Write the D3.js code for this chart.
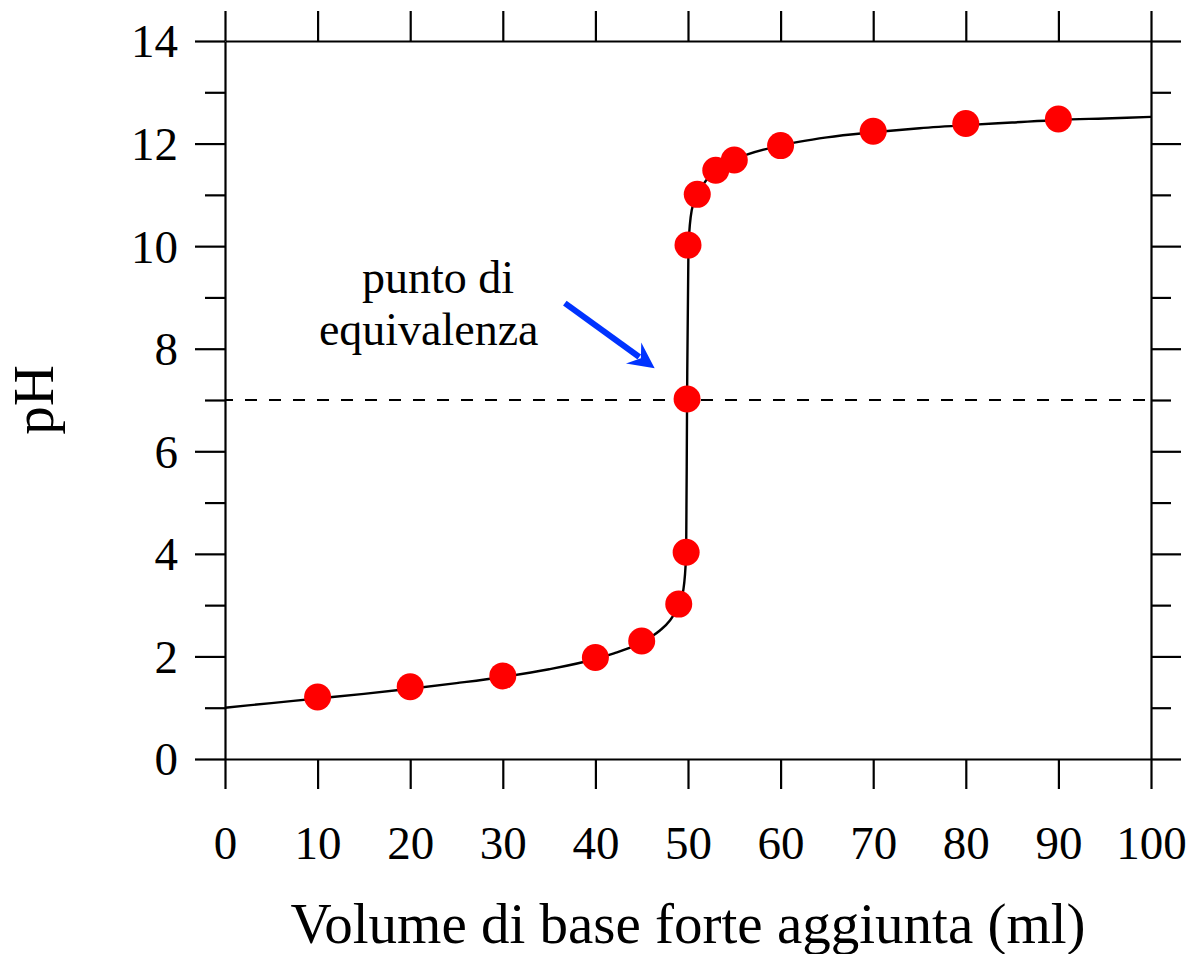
<!DOCTYPE html>
<html><head><meta charset="utf-8">
<script src="https://cdn.jsdelivr.net/npm/d3@7"></script>
<style>body{margin:0;background:#fff}svg{display:block}</style>
</head><body>
<script>
// ---- data ----
const xTicks = [0,10,20,30,40,50,60,70,80,90,100];
const yTicks = [0,2,4,6,8,10,12,14];
const yMinorTicks = [1,3,5,7,9,11,13];
const pointVolume = [10,20,30,40,45,49,49.8,49.9,50.0,51,53,55,60,70,80,90];
const pointPH     = [1.21,1.41,1.62,1.98,2.30,3.02,4.03,7.02,10.02,11.01,11.48,11.68,11.96,12.24,12.39,12.48];
const curveVolume = [0,5,10,15,20,25,30,35,40,42,44,46,47,48,49,49.5,49.8,49.9,50.05,50.4,51,52,53,55,60,65,70,75,80,85,90,95,100];
const curvePH     = [1.00,1.09,1.18,1.27,1.37,1.48,1.60,1.75,1.95,2.06,2.19,2.38,2.51,2.69,3.00,3.30,4.00,7.00,10.00,10.70,11.00,11.29,11.46,11.68,11.96,12.12,12.22,12.30,12.36,12.41,12.46,12.49,12.52];
const equivPH = 7;
const xTitle = "Volume di base forte aggiunta (ml)";
const yTitle = "pH";
const annotLines = ["punto di", "equivalenza"];
const annotPos = [[23.0, 9.09],[22.0, 8.07]];   // [volume, pH] anchors of text lines
const arrowFrom = [36.7, 8.89], arrowTo = [46.4, 7.62];

// ---- layout ----
const W = 1192, H = 954;
const L = 225, R = 1151, T = 41, B = 759;
const FONT = "'Liberation Serif','Times New Roman',serif";

const svg = d3.select("body").append("svg").attr("width", W).attr("height", H)
  .style("font-family", FONT);

const x = d3.scaleLinear().domain([0,100]).range([L,R]);
const y = d3.scaleLinear().domain([0,14]).range([B,T]);

// dashed equivalence line
svg.append("line")
  .attr("x1", x(0)).attr("x2", x(100))
  .attr("y1", y(equivPH)).attr("y2", y(equivPH))
  .attr("stroke", "#000").attr("stroke-width", 2.2)
  .attr("stroke-dasharray", "12,12").attr("stroke-dashoffset", 4);

// axes
function styleAxis(g){
  g.selectAll("path.domain").attr("stroke","#000").attr("stroke-width",2.2);
  g.selectAll(".tick line").attr("stroke","#000").attr("stroke-width",2.2);
  g.selectAll("text").attr("fill","#000").style("font-size","47px").style("font-family",FONT);
}
const gB = svg.append("g").attr("transform",`translate(0,${B})`)
  .call(d3.axisBottom(x).tickValues(xTicks).tickSize(30).tickSizeOuter(0).tickPadding(37).tickFormat(d3.format("d")));
styleAxis(gB);
const gT = svg.append("g").attr("transform",`translate(0,${T})`)
  .call(d3.axisTop(x).tickValues(xTicks).tickSize(30).tickSizeOuter(0).tickFormat(""));
styleAxis(gT);
const gL = svg.append("g").attr("transform",`translate(${L},0)`)
  .call(d3.axisLeft(y).tickValues(yTicks).tickSize(30).tickSizeOuter(0).tickPadding(17).tickFormat(d3.format("d")));
styleAxis(gL);
gL.selectAll("text").attr("dy","0.34em");
const gLm = svg.append("g").attr("transform",`translate(${L},0)`)
  .call(d3.axisLeft(y).tickValues(yMinorTicks).tickSize(20).tickSizeOuter(0).tickFormat(""));
styleAxis(gLm); gLm.select("path.domain").remove();
const gR = svg.append("g").attr("transform",`translate(${R},0)`)
  .call(d3.axisRight(y).tickValues(yTicks).tickSize(30).tickSizeOuter(0).tickFormat(""));
styleAxis(gR);
const gRm = svg.append("g").attr("transform",`translate(${R},0)`)
  .call(d3.axisRight(y).tickValues(yMinorTicks).tickSize(20).tickSizeOuter(0).tickFormat(""));
styleAxis(gRm); gRm.select("path.domain").remove();

// curve
const curveData = curveVolume.map((v,i)=>[v,curvePH[i]]);
svg.append("path").datum(curveData)
  .attr("fill","none").attr("stroke","#000").attr("stroke-width",2.4)
  .attr("d", d3.line().x(d=>x(d[0])).y(d=>y(d[1])).curve(d3.curveMonotoneX));

// points
const pts = pointVolume.map((v,i)=>[v,pointPH[i]]);
svg.append("g").selectAll("circle").data(pts).join("circle")
  .attr("cx", d=>x(d[0])).attr("cy", d=>y(d[1])).attr("r", 13.5).attr("fill","#ff0000");

// annotation text
svg.append("g").selectAll("text").data(annotLines).join("text")
  .attr("x",(d,i)=>x(annotPos[i][0])).attr("y",(d,i)=>y(annotPos[i][1]))
  .attr("text-anchor","middle").style("font-size","46px").attr("fill","#000").text(d=>d);

// arrow
const ax0 = x(arrowFrom[0]), ay0 = y(arrowFrom[1]), ax1 = x(arrowTo[0]), ay1 = y(arrowTo[1]);
const len = Math.hypot(ax1-ax0, ay1-ay0), ux=(ax1-ax0)/len, uy=(ay1-ay0)/len, nx=-uy, ny=ux;
const headLen = 26, headW = 13, notch = 17;
svg.append("line").attr("x1",ax0).attr("y1",ay0)
  .attr("x2",ax1-ux*(notch+2)).attr("y2",ay1-uy*(notch+2))
  .attr("stroke","#0033ff").attr("stroke-width",6);
const hp = [[ax1,ay1],[ax1-ux*headLen+nx*headW, ay1-uy*headLen+ny*headW],[ax1-ux*notch, ay1-uy*notch],[ax1-ux*headLen-nx*headW, ay1-uy*headLen-ny*headW]];
svg.append("path").attr("d","M"+hp.map(p=>p.join(",")).join("L")+"Z").attr("fill","#0033ff");

// titles
svg.append("text").attr("x",(L+R)/2).attr("y",943).attr("text-anchor","middle")
  .style("font-size","57px").attr("fill","#000").text(xTitle);
svg.append("text").attr("transform",`translate(53,${(T+B)/2}) rotate(-90)`).attr("text-anchor","middle")
  .style("font-size","57px").attr("fill","#000").text(yTitle);
</script>
</body></html>
